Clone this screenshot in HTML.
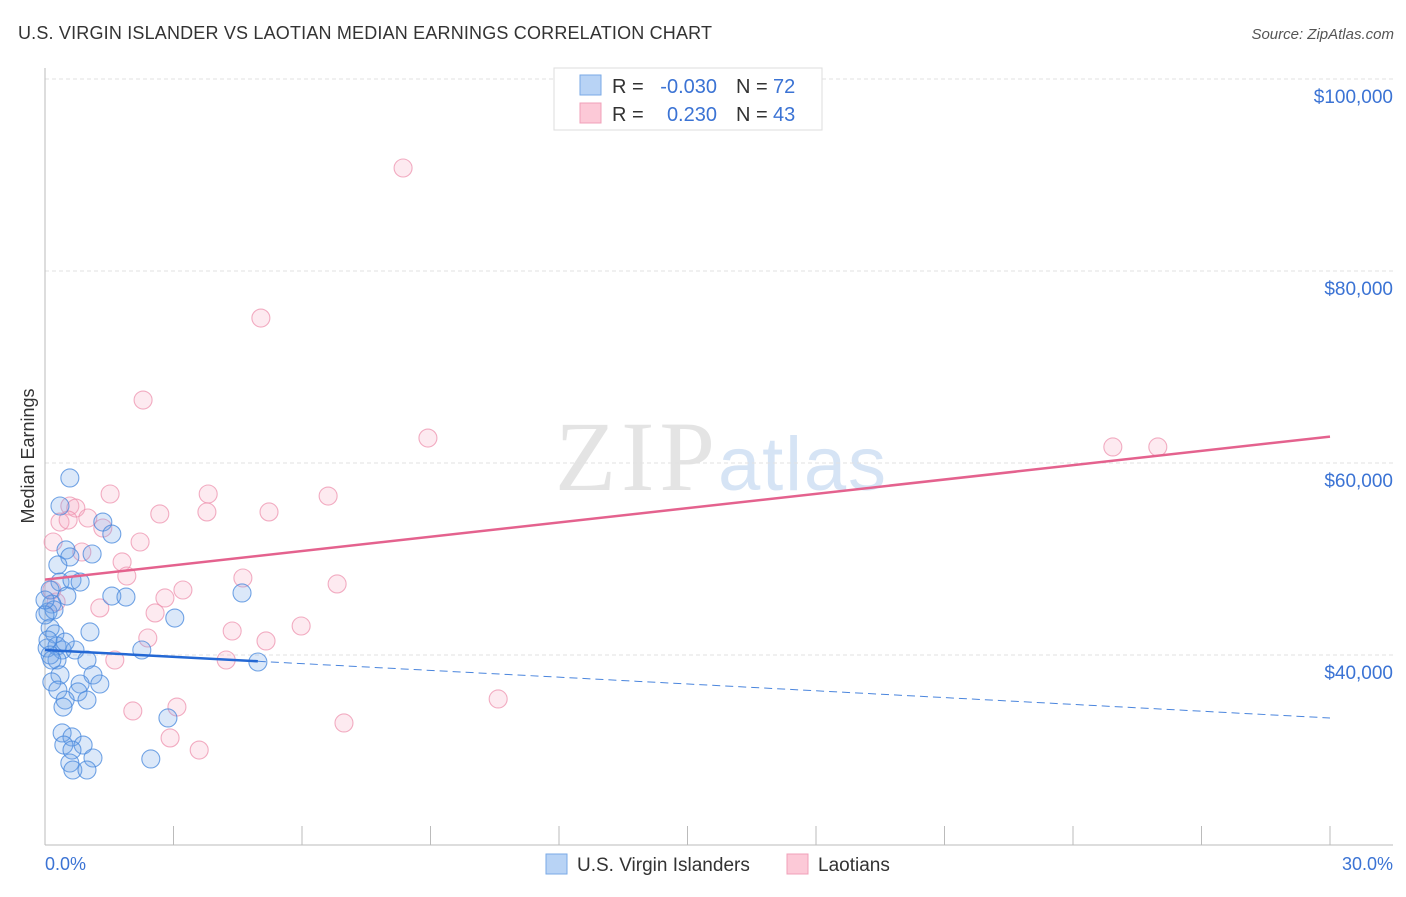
<!DOCTYPE html>
<html><head><meta charset="utf-8"><style>
body{margin:0;background:#fff;font-family:"Liberation Sans",sans-serif}
</style></head><body>
<svg width="1406" height="892" xmlns="http://www.w3.org/2000/svg" font-family="Liberation Sans, sans-serif">
<text x="18" y="39" font-size="18" fill="#333" textLength="694">U.S. VIRGIN ISLANDER VS LAOTIAN MEDIAN EARNINGS CORRELATION CHART</text>
<text x="1394" y="39" font-size="15" fill="#555" font-style="italic" text-anchor="end">Source: ZipAtlas.com</text>
<text x="555" y="490" font-size="100" fill="#e4e4e4" textLength="160" font-family="Liberation Serif, serif">ZIP</text>
<text x="718" y="490" font-size="76" fill="#d6e4f5" textLength="168">atlas</text>
<g id="grid"></g>
<g id="axes"></g>
<g id="pts"></g>
<g id="lines"></g>
<text transform="translate(34,456) rotate(-90)" font-size="18" fill="#333" text-anchor="middle">Median Earnings</text>
<text x="45" y="870" font-size="18" fill="#3b73d4">0.0%</text>
<text x="1393" y="870" font-size="18" fill="#3b73d4" text-anchor="end">30.0%</text>
<g font-size="20">
<rect x="554" y="68" width="268" height="62" fill="#fff" stroke="#ddd"/>
<rect x="580" y="75" width="21" height="20" fill="#b8d3f5" stroke="#7aaae6"/>
<rect x="580" y="103" width="21" height="20" fill="#fcc9d7" stroke="#f0a0b8"/>
<text x="612" y="93" fill="#333">R =</text>
<text x="717" y="93" fill="#3b73d4" text-anchor="end">-0.030</text>
<text x="736" y="93" fill="#333">N =</text>
<text x="773" y="93" fill="#3b73d4">72</text>
<text x="612" y="121" fill="#333">R =</text>
<text x="717" y="121" fill="#3b73d4" text-anchor="end">0.230</text>
<text x="736" y="121" fill="#333">N =</text>
<text x="773" y="121" fill="#3b73d4">43</text>
</g>
<g>
<rect x="546" y="854" width="21" height="20" fill="#b8d3f5" stroke="#7aaae6"/>
<text x="577" y="871" font-size="19" fill="#333">U.S. Virgin Islanders</text>
<rect x="787" y="854" width="21" height="20" fill="#fcc9d7" stroke="#f0a0b8"/>
<text x="818" y="871" font-size="19" fill="#333">Laotians</text>
</g>
</svg>
<script>
const yTicks=[40000,60000,80000,100000];
const yTickLabels=["$40,000","$60,000","$80,000","$100,000"];
const blueX=[0.58,0.35,1.35,1.56,0.49,1.10,0.58,0.30,0.35,0.63,0.82,0.51,1.56,1.89,4.60,0.12,0.16,0.07,0.21,3.03,1.05,0.12,0.23,0.05,0.28,0.40,0.70,2.26,4.97,0.98,0.28,0.35,0.16,1.12,0.82,1.28,0.30,0.77,0.47,0.98,0.42,2.87,0.40,0.63,0.89,0.44,0.63,0.58,1.12,0.65,0.98,2.47,0,0.07,0.47,0.12,0,0.16];
const blueY=[58440,55520,53850,52600,50940,50520,50210,49380,47600,47810,47600,46140,46140,46040,46460,46770,45310,44480,44690,43850,42400,42810,42190,40730,40940,40520,40520,40520,39270,39480,39480,37920,37190,37920,36980,36980,36350,36150,35310,35310,34580,33440,31880,31460,30620,30620,30100,28750,29270,28020,28020,29170,44170,41560,41350,40000,45730,39480];
const pinkX=[8.36,5.04,2.29,8.94,24.93,25.98,0.58,0.35,0.72,1.00,1.52,3.81,2.68,3.78,5.23,6.61,0.19,1.35,2.22,1.80,1.91,0.86,4.62,6.82,3.22,2.80,1.28,2.57,4.37,5.98,2.40,5.16,4.23,1.63,0.26,2.05,3.08,2.92,3.60,6.98,10.58,0.16,0.54];
const pinkY=[90730,75100,66560,62600,61670,61670,55520,53850,55310,54270,56770,56770,54690,54900,54900,56560,51770,53230,51770,49690,48230,50730,48020,47400,46770,45940,44900,44380,42500,43020,41770,41460,39480,39480,45520,34170,34580,31360,30100,32920,35420,46770,54060];
const pinkTrend=[47850,62750];
const blueTrend=[40520,33440];
const blueSolidEnd=4.97;
const NS="http://www.w3.org/2000/svg";
const X=p=>45+p/30*1285;
const Y=v=>79+(100000-v)*0.0096;
function mk(t,a,parent){const e=document.createElementNS(NS,t);for(const k in a)e.setAttribute(k,a[k]);document.getElementById(parent).appendChild(e);return e;}
yTicks.forEach((v,i)=>{
 const l=mk('line',{x1:45,x2:1393,y1:Y(v),y2:Y(v),stroke:'#e2e2e2','stroke-dasharray':'4,3'},'grid');
 
 
 const t=mk('text',{x:1393,y:Y(v)+24,'font-size':19,fill:'#3b73d4','text-anchor':'end'},'grid');
 t.textContent=yTickLabels[i];
 
 
});
let ax=mk('line',{x1:45,x2:45,y1:68,y2:845,stroke:'#bbb'},'axes');


ax=mk('line',{x1:45,x2:1393,y1:845,y2:845,stroke:'#bbb'},'axes');


for(let i=1;i<=10;i++){const t=mk('line',{x1:X(i*3),x2:X(i*3),y1:826,y2:845,stroke:'#bbb'},'axes');
 
 }
pinkX.forEach((x,i)=>{const c=mk('circle',{cx:X(x),cy:Y(pinkY[i]),r:9,fill:'rgba(246,170,195,0.25)',stroke:'rgba(236,140,170,0.7)','stroke-width':1.1},'pts');
 
 });
blueX.forEach((x,i)=>{const c=mk('circle',{cx:X(x),cy:Y(blueY[i]),r:9,fill:'rgba(110,165,230,0.25)',stroke:'rgba(70,135,220,0.75)','stroke-width':1.1},'pts');
 
 });
const bAt=p=>blueTrend[0]+(blueTrend[1]-blueTrend[0])*p/30;
let l=mk('line',{x1:X(0),y1:Y(pinkTrend[0]),x2:X(30),y2:Y(pinkTrend[1]),stroke:'#e4628e','stroke-width':2.5},'lines');


l=mk('line',{x1:X(0),y1:Y(bAt(0)),x2:X(blueSolidEnd),y2:Y(bAt(blueSolidEnd)),stroke:'#2468d4','stroke-width':2.5},'lines');


l=mk('line',{x1:X(blueSolidEnd),y1:Y(bAt(blueSolidEnd)),x2:X(30),y2:Y(bAt(30)),stroke:'#4a85dd','stroke-width':1,'stroke-dasharray':'8,5'},'lines');


</script>
</body></html>
